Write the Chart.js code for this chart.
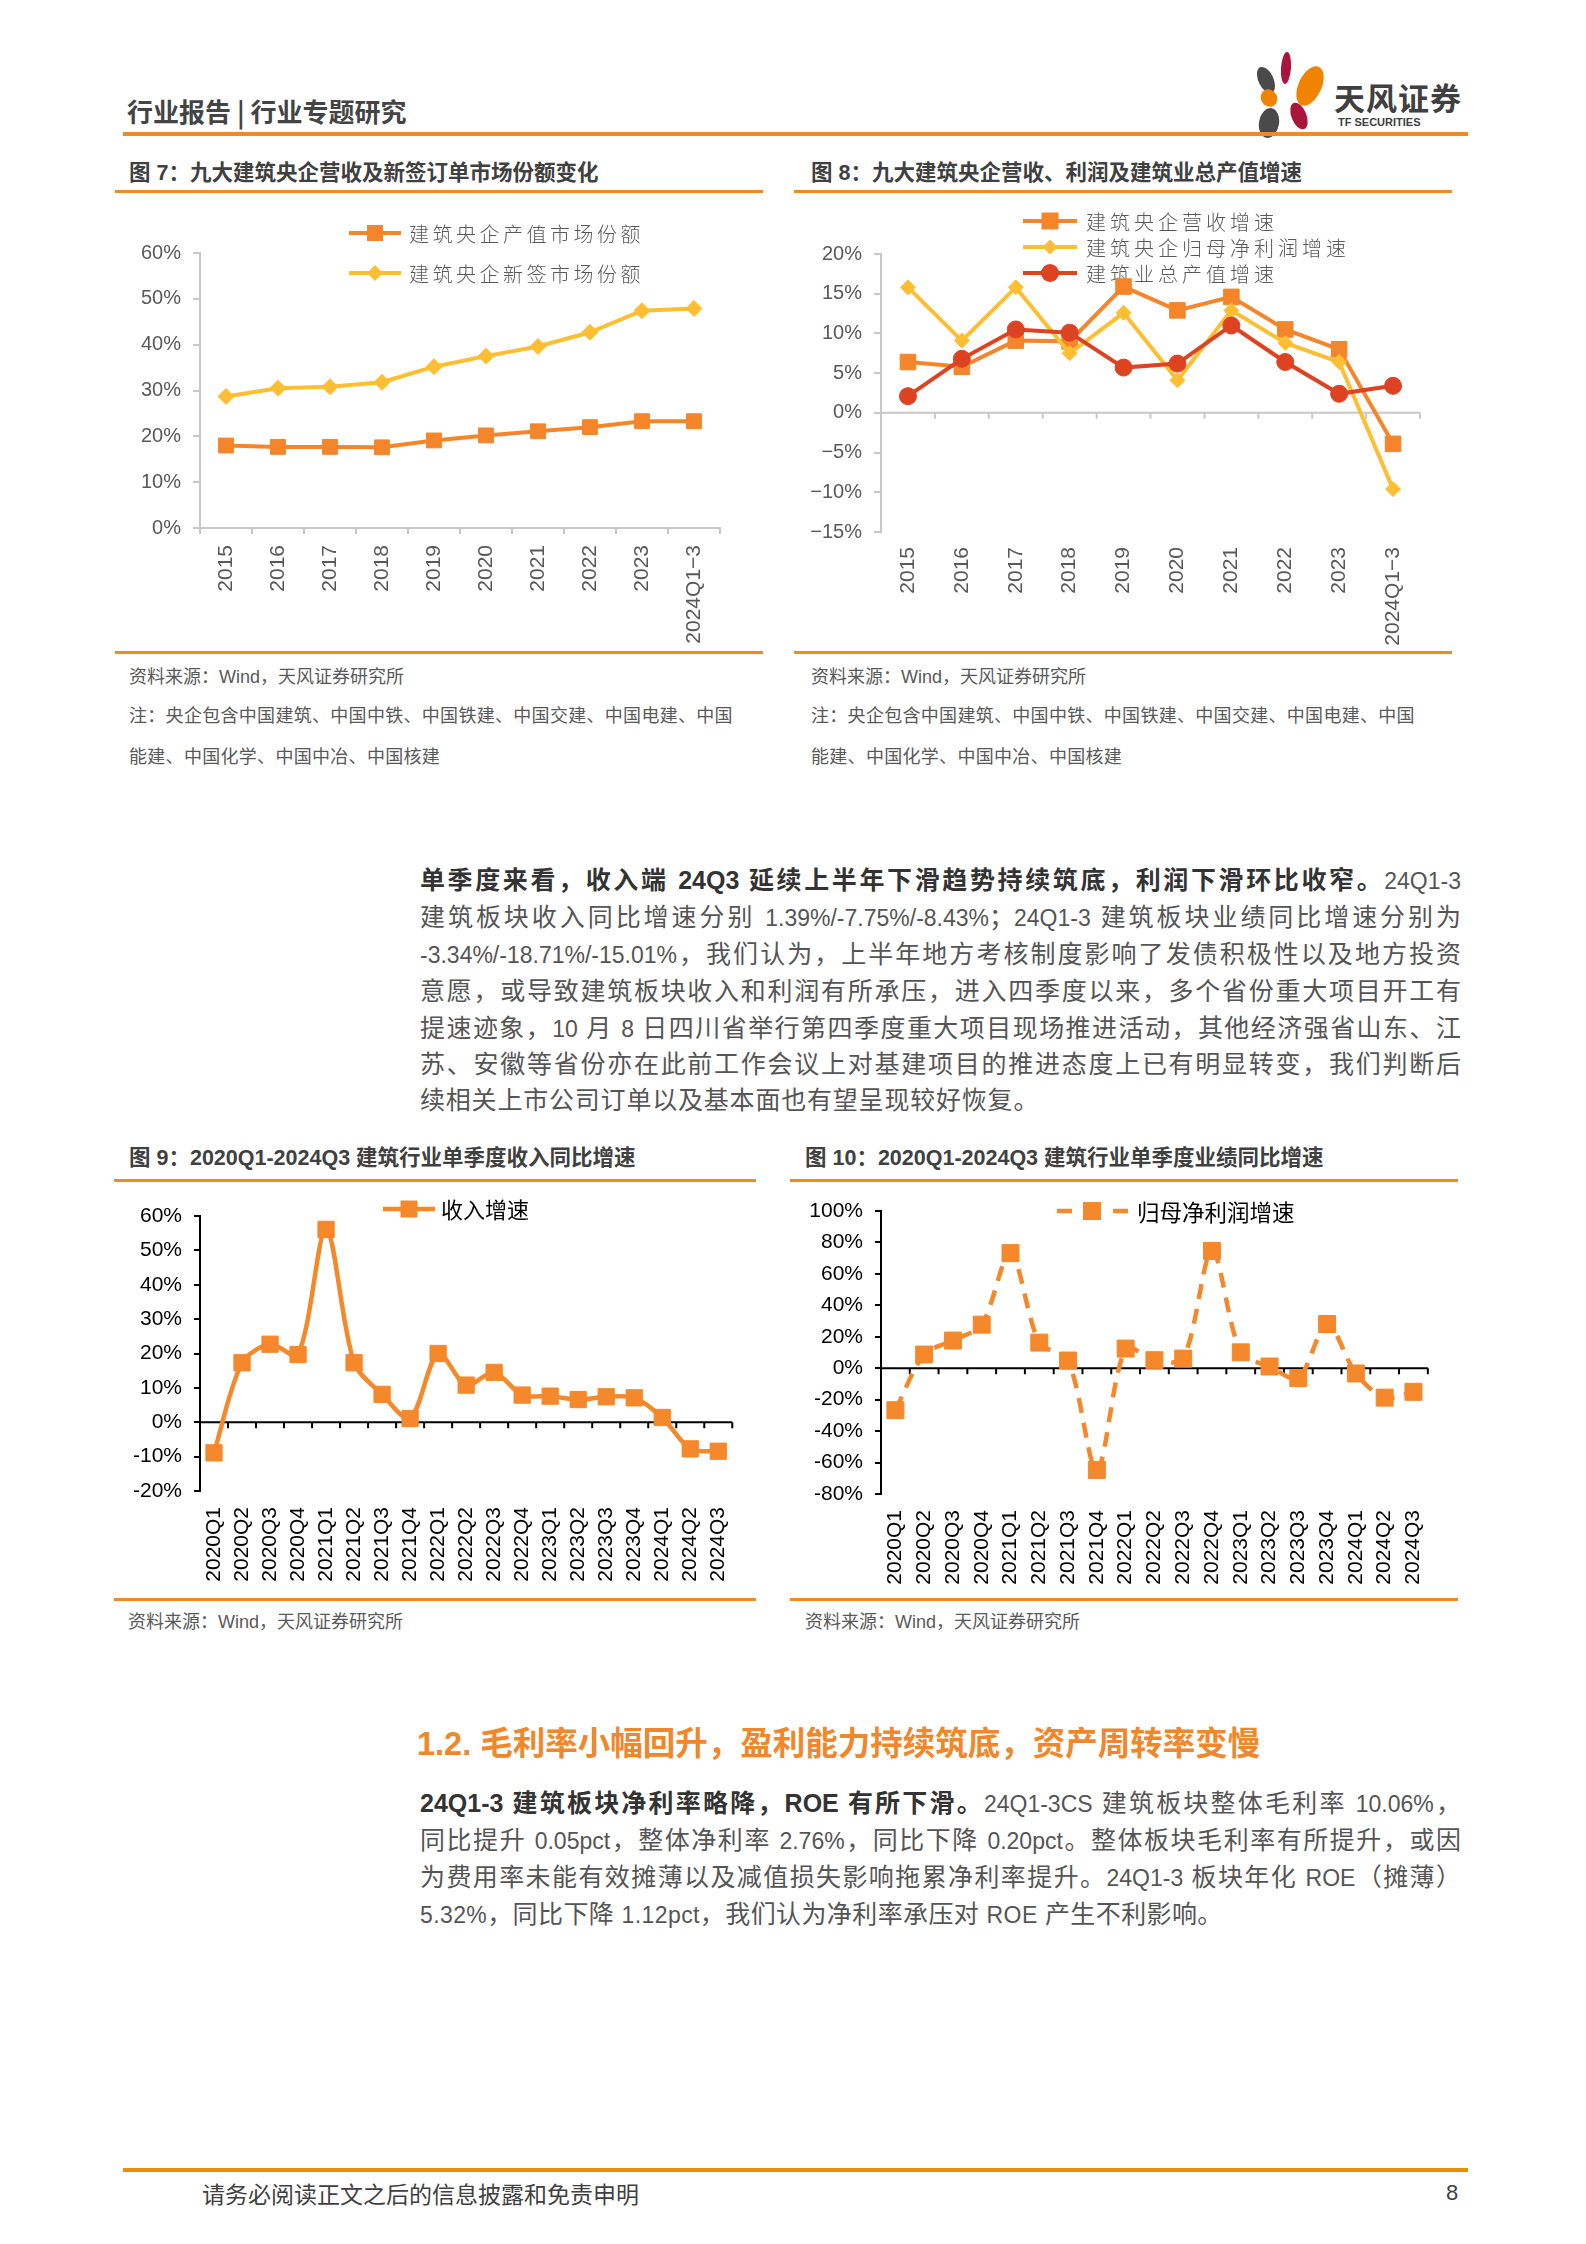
<!DOCTYPE html>
<html><head><meta charset="utf-8">
<script src="https://cdn.jsdelivr.net/npm/chart.js@4.4.1/dist/chart.umd.min.js"></script>
<style>
html,body{margin:0;padding:0;background:#fff;}
body{width:1586px;height:2244px;position:relative;overflow:hidden;font-family:'Noto Sans CJK SC','Noto Sans',sans-serif;}
.a{position:absolute;white-space:nowrap;}
.ol{position:absolute;background:#EF8A25;}
.hdr{left:127px;top:98px;font-size:26px;line-height:26px;font-weight:700;color:#444;}
.ft{font-family:'Liberation Sans','Noto Sans CJK SC',sans-serif;font-weight:700;font-size:21.5px;line-height:22px;color:#404040;}
.src{font-family:'Liberation Sans','Noto Sans CJK SC',sans-serif;font-size:18px;line-height:20px;color:#595959;}
.pl{position:absolute;left:420px;width:1041px;font-family:'Liberation Sans','Noto Sans CJK SC',sans-serif;font-size:25px;line-height:36px;height:36px;color:#555;text-align:justify;text-align-last:justify;letter-spacing:0;}
.pl .n{font-size:23px;}
.pl b{color:#333;font-weight:700;}
.pl.last{text-align-last:left;letter-spacing:0.8px;}
.h2{left:417px;top:1726px;font-family:'Liberation Sans','Noto Sans CJK SC',sans-serif;font-size:32.5px;line-height:36px;font-weight:700;color:#F0872A;}
canvas{position:absolute;}
</style></head>
<body>
<div class="a hdr">行业报告 | 行业专题研究</div>
<svg class="a" style="left:1240px;top:45px" width="100" height="100" viewBox="1240 45 100 100">
  <ellipse cx="1286" cy="68" rx="5" ry="16" fill="#A8163B" transform="rotate(4 1286 68)"/>
  <ellipse cx="1266" cy="80" rx="7.5" ry="14" fill="#4A4A4A" transform="rotate(-25 1266 80)"/>
  <ellipse cx="1310" cy="86" rx="11.5" ry="21" fill="#F08300" transform="rotate(25 1310 86)"/>
  <ellipse cx="1269" cy="98" rx="8" ry="9" fill="#F08300" transform="rotate(-30 1269 98)"/>
  <ellipse cx="1299" cy="116" rx="7.5" ry="14" fill="#A8163B" transform="rotate(-22 1299 116)"/>
  <ellipse cx="1269" cy="123" rx="10" ry="15" fill="#4A4A4A" transform="rotate(10 1269 123)"/>
</svg>
<div class="a" style="left:1334px;top:81px;font-size:31px;line-height:32px;font-weight:700;color:#404040;letter-spacing:1px;">天风证券</div>
<div class="a" style="left:1338px;top:116px;font-family:'Liberation Sans',sans-serif;font-size:11px;line-height:13px;font-weight:700;color:#404040;">TF SECURITIES</div>
<div class="ol" style="left:123px;top:132px;width:1345px;height:4px;"></div>

<div class="a ft" style="left:129px;top:162px;">图 7：九大建筑央企营收及新签订单市场份额变化</div>
<div class="a ft" style="left:811px;top:162px;">图 8：九大建筑央企营收、利润及建筑业总产值增速</div>
<div class="ol" style="left:115px;top:190px;width:648px;height:3px;"></div>
<div class="ol" style="left:794px;top:190px;width:658px;height:3px;"></div>

<canvas id="c7" width="650" height="455" style="left:115px;top:195px;width:650px;height:455px"></canvas>
<canvas id="c8" width="660" height="455" style="left:794px;top:195px;width:660px;height:455px"></canvas>

<div class="ol" style="left:115px;top:651px;width:648px;height:3px;"></div>
<div class="ol" style="left:794px;top:651px;width:658px;height:3px;"></div>
<div class="a src" style="left:129px;top:667px;">资料来源：Wind，天风证券研究所</div>
<div class="a src" style="left:129px;top:706px;letter-spacing:0.3px;">注：央企包含中国建筑、中国中铁、中国铁建、中国交建、中国电建、中国</div>
<div class="a src" style="left:129px;top:747px;letter-spacing:0.3px;">能建、中国化学、中国中冶、中国核建</div>
<div class="a src" style="left:811px;top:667px;">资料来源：Wind，天风证券研究所</div>
<div class="a src" style="left:811px;top:706px;letter-spacing:0.3px;">注：央企包含中国建筑、中国中铁、中国铁建、中国交建、中国电建、中国</div>
<div class="a src" style="left:811px;top:747px;letter-spacing:0.3px;">能建、中国化学、中国中冶、中国核建</div>

<div class="pl" style="top:862px"><b>单季度来看，收入端 24Q3 延续上半年下滑趋势持续筑底，利润下滑环比收窄。</b><span class="n">24Q1-3</span></div>
<div class="pl" style="top:899px">建筑板块收入同比增速分别 <span class="n">1.39%/-7.75%/-8.43%</span>；<span class="n">24Q1-3</span> 建筑板块业绩同比增速分别为</div>
<div class="pl" style="top:936px"><span class="n">-3.34%/-18.71%/-15.01%</span>，我们认为，上半年地方考核制度影响了发债积极性以及地方投资</div>
<div class="pl" style="top:973px">意愿，或导致建筑板块收入和利润有所承压，进入四季度以来，多个省份重大项目开工有</div>
<div class="pl" style="top:1010px">提速迹象，<span class="n">10</span> 月 <span class="n">8</span> 日四川省举行第四季度重大项目现场推进活动，其他经济强省山东、江</div>
<div class="pl" style="top:1046px">苏、安徽等省份亦在此前工作会议上对基建项目的推进态度上已有明显转变，我们判断后</div>
<div class="pl last" style="top:1082px">续相关上市公司订单以及基本面也有望呈现较好恢复。</div>

<div class="a ft" style="left:129px;top:1147px;">图 9：2020Q1-2024Q3 建筑行业单季度收入同比增速</div>
<div class="a ft" style="left:805px;top:1147px;">图 10：2020Q1-2024Q3 建筑行业单季度业绩同比增速</div>
<div class="ol" style="left:114px;top:1179px;width:642px;height:3px;"></div>
<div class="ol" style="left:790px;top:1179px;width:668px;height:3px;"></div>

<canvas id="c9" width="645" height="410" style="left:115px;top:1185px;width:645px;height:410px"></canvas>
<canvas id="c10" width="665" height="410" style="left:790px;top:1185px;width:665px;height:410px"></canvas>

<div class="ol" style="left:114px;top:1598px;width:642px;height:3px;"></div>
<div class="ol" style="left:790px;top:1598px;width:668px;height:3px;"></div>
<div class="a src" style="left:128px;top:1612px;">资料来源：Wind，天风证券研究所</div>
<div class="a src" style="left:805px;top:1612px;">资料来源：Wind，天风证券研究所</div>

<div class="a h2">1.2. 毛利率小幅回升，盈利能力持续筑底，资产周转率变慢</div>
<div class="pl" style="top:1785px"><b>24Q1-3 建筑板块净利率略降，ROE 有所下滑。</b><span class="n">24Q1-3CS</span> 建筑板块整体毛利率 <span class="n">10.06%</span>，</div>
<div class="pl" style="top:1822px">同比提升 <span class="n">0.05pct</span>，整体净利率 <span class="n">2.76%</span>，同比下降 <span class="n">0.20pct</span>。整体板块毛利率有所提升，或因</div>
<div class="pl" style="top:1859px">为费用率未能有效摊薄以及减值损失影响拖累净利率提升。<span class="n">24Q1-3</span> 板块年化 <span class="n">ROE</span>（摊薄）</div>
<div class="pl last" style="top:1896px;letter-spacing:0.4px"><span class="n">5.32%</span>，同比下降 <span class="n">1.12pct</span>，我们认为净利率承压对 <span class="n">ROE</span> 产生不利影响。</div>

<div style="position:absolute;left:123px;top:2168px;width:1345px;height:4px;background:#EA8E06;"></div>
<div class="a" style="left:202px;top:2180px;font-size:23px;line-height:26px;color:#404040;">请务必阅读正文之后的信息披露和免责申明</div>
<div class="a" style="left:1446px;top:2180px;font-family:'Liberation Sans',sans-serif;font-size:22px;line-height:26px;color:#404040;">8</div>

<script>
// ---------- data ----------
const years = ['2015','2016','2017','2018','2019','2020','2021','2022','2023','2024Q1−3'];
const outputShare = [18.0,17.7,17.7,17.6,19.1,20.2,21.1,22.0,23.3,23.3];
const newOrderShare = [28.7,30.5,30.8,31.8,35.2,37.5,39.6,42.7,47.4,47.9];
const revenueGrowth = [6.4,5.8,9.1,9.0,15.9,12.9,14.6,10.5,8.0,-3.9];
const profitGrowth = [15.8,9.1,15.8,7.5,12.6,4.1,12.9,8.8,6.4,-9.6];
const industryOutputGrowth = [2.1,6.8,10.5,10.1,5.7,6.2,11.0,6.4,2.4,3.4];
const quarters = ['2020Q1','2020Q2','2020Q3','2020Q4','2021Q1','2021Q2','2021Q3','2021Q4','2022Q1','2022Q2','2022Q3','2022Q4','2023Q1','2023Q2','2023Q3','2023Q4','2024Q1','2024Q2','2024Q3'];
const quarterlyRevenueGrowth = [-8.9,17.3,22.7,19.7,56.1,17.3,8.1,1.1,20.0,10.8,14.5,7.9,7.6,6.6,7.4,7.1,1.39,-7.75,-8.43];
const quarterlyProfitGrowth = [-26.7,8.7,17.6,27.7,73.2,16.3,4.9,-64.7,12.5,5.1,6.1,74.6,10.1,1.1,-6.3,28.1,-3.34,-18.71,-15.01];
const shareTicks = [0,10,20,30,40,50,60];
const growthTicks = [-15,-10,-5,0,5,10,15,20];
const qRevTicks = [-20,-10,0,10,20,30,40,50,60];
const qProfitTicks = [-80,-60,-40,-20,0,20,40,60,80,100];
const label7 = ['建筑央企产值市场份额','建筑央企新签市场份额'];
const label8 = ['建筑央企营收增速','建筑央企归母净利润增速','建筑业总产值增速'];
const label9 = ['收入增速'];
const label10 = ['归母净利润增速'];

// ---------- styles ----------
const ORANGE = '#F4852B', YELLOW = '#FDBF31', RED = '#DD4321', ORANGE2 = '#F5882A';
const GREY = '#C8C8C8';
const SANS = "'Liberation Sans',Arial,sans-serif";
const CJK = "'Noto Sans CJK SC','Noto Sans',sans-serif";
const minusPct = v => (v < 0 ? '−' + Math.abs(v) : v) + '%';
const hyphenPct = v => v + '%';

function drawMarker(ctx, style, x, y, s, color) {
  ctx.fillStyle = color;
  ctx.beginPath();
  if (style === 'rect') ctx.rect(x - s / 2, y - s / 2, s, s);
  else if (style === 'rectRot') { ctx.moveTo(x - s / 2, y); ctx.lineTo(x, y - s / 2); ctx.lineTo(x + s / 2, y); ctx.lineTo(x, y + s / 2); ctx.closePath(); }
  else ctx.arc(x, y, s / 2, 0, Math.PI * 2);
  ctx.fill();
}

const decor = {
  id: 'decor',
  beforeDatasetsDraw(chart, args, o) {
    const ctx = chart.ctx;
    const xs = chart.scales.x, ys = chart.scales.y;
    ctx.save();
    if (o.zero) {
      const y0 = ys.getPixelForValue(0);
      const n = xs.getLabels().length;
      const step = (xs.right - xs.left) / n;
      ctx.strokeStyle = o.zero.color;
      ctx.lineWidth = o.zero.width;
      ctx.beginPath();
      ctx.moveTo(xs.left, y0); ctx.lineTo(xs.right, y0);
      for (let i = 1; i <= n; i++) {
        const px = xs.left + step * i;
        ctx.moveTo(px, y0); ctx.lineTo(px, y0 + o.zero.tick);
      }
      ctx.stroke();
    }
    (o.items || []).forEach(it => {
      const ds = chart.data.datasets[it.ds];
      const color = ds.borderColor;
      ctx.strokeStyle = color;
      ctx.lineWidth = ds.borderWidth;
      ctx.beginPath();
      if (it.dashed) {
        ctx.moveTo(it.x0, it.y); ctx.lineTo(it.x0 + it.dashed, it.y);
        ctx.moveTo(it.x1 - it.dashed, it.y); ctx.lineTo(it.x1, it.y);
      } else {
        ctx.moveTo(it.x0, it.y); ctx.lineTo(it.x1, it.y);
      }
      ctx.stroke();
      drawMarker(ctx, ds.pointStyle, it.mx, it.y, it.ms, color);
      ctx.fillStyle = o.textColor;
      ctx.font = o.font;
      ctx.textBaseline = 'middle';
      let tx = it.tx;
      for (const ch of ds.label) {
        ctx.fillText(ch, tx, it.y + 1);
        tx += ctx.measureText(ch).width + o.spacing;
      }
    });
    ctx.restore();
  }
};

function lineDs(label, data, color, style, radius, extra) {
  return Object.assign({
    label, data, borderColor: color, backgroundColor: color, borderWidth: 4,
    pointStyle: style, pointRadius: radius, pointBorderWidth: 1, pointBackgroundColor: color,
    pointBorderColor: color, tension: 0, clip: false
  }, extra || {});
}

function baseOptions(o) {
  return {
    responsive: false, animation: false, devicePixelRatio: 1,
    layout: { padding: o.padding },
    plugins: { legend: { display: false }, tooltip: { enabled: false }, decor: o.decor },
    scales: {
      x: Object.assign({
        offset: true,
        ticks: { font: { family: o.xFont, size: o.xSize }, color: o.tickColor, minRotation: 90, maxRotation: 90, padding: o.xPad, autoSkip: false },
        afterFit: s => { s.height = o.xHeight; }
      }, o.xExtra),
      y: {
        min: o.yTicks[0], max: o.yTicks[o.yTicks.length - 1],
        afterBuildTicks: s => { s.ticks = o.yTicks.map(v => ({ value: v })); },
        grid: { drawOnChartArea: false, drawTicks: true, tickLength: o.yTickLen, color: o.axisColor, lineWidth: 2 },
        border: { display: true, color: o.axisColor, width: 2 },
        ticks: { callback: o.yFmt, font: { family: o.yFont, size: o.ySize }, color: o.tickColor, padding: o.yPad },
        afterFit: s => { s.width = o.yWidth; }
      }
    }
  };
}

// Figure 7
new Chart(document.getElementById('c7'), {
  type: 'line',
  data: { labels: years, datasets: [
    lineDs(label7[0], outputShare, ORANGE, 'rect', 10.5),
    lineDs(label7[1], newOrderShare, YELLOW, 'rectRot', 8)
  ]},
  options: baseOptions({
    padding: { left: 0, top: 58, right: 45, bottom: 0 },
    xFont: SANS, xSize: 21, xPad: 11, xHeight: 122, tickColor: '#595959',
    xExtra: { grid: { display: true, drawOnChartArea: false, drawTicks: true, tickLength: 6, offset: true, color: GREY, lineWidth: 2 }, border: { display: true, color: GREY, width: 2 } },
    yTicks: shareTicks, yFmt: hyphenPct, yFont: SANS, ySize: 20, yPad: 12, yTickLen: 7, yWidth: 85, axisColor: GREY,
    decor: { textColor: '#595959', font: "300 20px " + CJK, spacing: 3.5,
      items: [ { ds: 0, x0: 234, x1: 286, mx: 260, ms: 16, y: 38, tx: 294 },
               { ds: 1, x0: 234, x1: 286, mx: 260, ms: 16, y: 78, tx: 294 } ] }
  }),
  plugins: [decor]
});

// Figure 8
new Chart(document.getElementById('c8'), {
  type: 'line',
  data: { labels: years, datasets: [
    lineDs(label8[0], revenueGrowth, ORANGE, 'rect', 11, { order: 3 }),
    lineDs(label8[1], profitGrowth, YELLOW, 'rectRot', 7.5, { order: 2 }),
    lineDs(label8[2], industryOutputGrowth, RED, 'circle', 8.5, { order: 1 })
  ]},
  options: baseOptions({
    padding: { left: 0, top: 59, right: 34, bottom: 0 },
    xFont: SANS, xSize: 21, xPad: 15, xHeight: 118, tickColor: '#595959',
    xExtra: { grid: { display: false, drawTicks: false }, border: { display: false } },
    yTicks: growthTicks, yFmt: minusPct, yFont: SANS, ySize: 20, yPad: 12, yTickLen: 7, yWidth: 87, axisColor: GREY,
    decor: { zero: { color: GREY, width: 2, tick: 6 }, textColor: '#595959', font: "300 20px " + CJK, spacing: 4,
      items: [ { ds: 0, x0: 229, x1: 283, mx: 256, ms: 17, y: 26, tx: 292 },
               { ds: 1, x0: 229, x1: 283, mx: 256, ms: 15, y: 52, tx: 292 },
               { ds: 2, x0: 229, x1: 283, mx: 256, ms: 18, y: 78, tx: 292 } ] }
  }),
  plugins: [decor]
});

// Figure 9
new Chart(document.getElementById('c9'), {
  type: 'line',
  data: { labels: quarters, datasets: [
    lineDs(label9[0], quarterlyRevenueGrowth, ORANGE2, 'rect', 11.5, { borderWidth: 4.5, tension: 0.3, pointBorderWidth: 1 })
  ]},
  options: baseOptions({
    padding: { left: 0, top: 31, right: 20, bottom: 0 },
    xFont: SANS, xSize: 21, xPad: 16, xHeight: 104, tickColor: '#000',
    xExtra: { grid: { display: false, drawTicks: false }, border: { display: false } },
    yTicks: qRevTicks, yFmt: hyphenPct, yFont: SANS, ySize: 21, yPad: 12, yTickLen: 6, yWidth: 85, axisColor: '#000',
    decor: { zero: { color: '#000', width: 2, tick: 6 }, textColor: '#000', font: "22px " + CJK, spacing: 0,
      items: [ { ds: 0, x0: 268, x1: 320, mx: 294, ms: 17, y: 24, tx: 326 } ] }
  }),
  plugins: [decor]
});

// Figure 10
new Chart(document.getElementById('c10'), {
  type: 'line',
  data: { labels: quarters, datasets: [
    lineDs(label10[0], quarterlyProfitGrowth, ORANGE2, 'rect', 12, { borderWidth: 4.5, tension: 0.3, borderDash: [15, 10], pointBorderWidth: 1 })
  ]},
  options: baseOptions({
    padding: { left: 0, top: 26, right: 14, bottom: 0 },
    xFont: SANS, xSize: 21, xPad: 16, xHeight: 101, tickColor: '#000',
    xExtra: { grid: { display: false, drawTicks: false }, border: { display: false } },
    yTicks: qProfitTicks, yFmt: hyphenPct, yFont: SANS, ySize: 21, yPad: 12, yTickLen: 6, yWidth: 91, axisColor: '#000',
    decor: { zero: { color: '#000', width: 2, tick: 6 }, textColor: '#000', font: "22.5px " + CJK, spacing: 0,
      items: [ { ds: 0, x0: 267, x1: 338, dashed: 15, mx: 302, ms: 18, y: 26, tx: 347 } ] }
  }),
  plugins: [decor]
});
</script>
</body></html>
